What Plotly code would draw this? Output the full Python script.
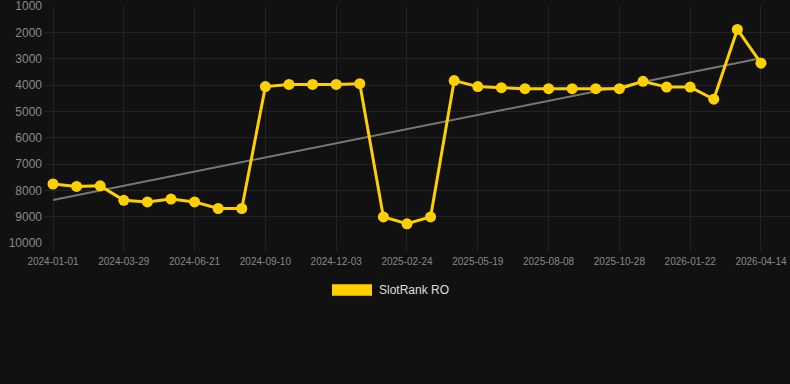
import numpy as np
import plotly.graph_objects as go

dates = ["2024-01-01", "2024-01-30", "2024-02-28", "2024-03-29", "2024-04-26", "2024-05-24",
         "2024-06-21", "2024-07-18", "2024-08-14", "2024-09-10", "2024-10-08", "2024-11-05",
         "2024-12-03", "2024-12-30", "2025-01-27", "2025-02-24", "2025-03-24", "2025-04-21",
         "2025-05-19", "2025-06-15", "2025-07-12", "2025-08-08", "2025-09-04", "2025-10-01",
         "2025-10-28", "2025-11-25", "2025-12-24", "2026-01-22", "2026-02-18", "2026-03-18",
         "2026-04-14"]
ranks = [7760, 7850, 7830, 8380, 8440, 8330, 8440, 8690, 8690, 4060, 3980, 3980, 3980, 3950,
         9010, 9270, 9010, 3830, 4060, 4100, 4140, 4140, 4140, 4140, 4140, 3860, 4080, 4080,
         4540, 1890, 3170]
series_name = "SlotRank RO"
y_ticks = [1000, 2000, 3000, 4000, 5000, 6000, 7000, 8000, 9000, 10000]
y_tick_labels = [str(v) for v in y_ticks]

idx = np.arange(len(dates))
slope, intercept = np.polyfit(idx, ranks, 1)
trend = slope * idx + intercept

YELLOW = "#FFD000"
BG = "#111111"
GRID = "#232323"

fig = go.Figure()
fig.add_trace(go.Scatter(x=idx, y=trend, mode="lines",
                         line=dict(color="#777777", width=2), showlegend=False,
                         hoverinfo="skip"))
fig.add_trace(go.Scatter(x=idx, y=ranks, mode="lines+markers", name=series_name,
                         line=dict(color=YELLOW, width=3),
                         marker=dict(color=YELLOW, size=11), showlegend=False,
                         text=dates))

tick_idx = list(idx[::3])
fig.update_layout(
    width=790, height=384,
    paper_bgcolor=BG, plot_bgcolor=BG,
    margin=dict(l=45, r=0, t=6, b=141),
    font=dict(family="Liberation Sans, Arial, sans-serif", color="#888888"),
    showlegend=False,
    xaxis=dict(range=[-0.339, 31.23], tickmode="array", tickvals=tick_idx,
               ticktext=[dates[i] for i in tick_idx], showgrid=True, gridcolor=GRID,
               gridwidth=1, zeroline=False, showline=False, ticks="outside", ticklen=7,
               tickcolor=GRID, tickfont=dict(size=10, color="#888888"),
               ticklabelstandoff=2, ticklabeloverflow="allow"),
    yaxis=dict(range=[10000.5, 999.5], tickmode="array", tickvals=y_ticks,
               ticktext=y_tick_labels,
               showgrid=True, gridcolor=GRID, gridwidth=1, zeroline=False,
               showline=False, ticks="", tickfont=dict(size=12, color="#8a8a8a"),
               ticklabelstandoff=2, ticklabeloverflow="allow"),
)

# legend drawn manually below the plot
fig.add_shape(type="rect", xref="paper", yref="paper",
              x0=(332 - 45) / 745, x1=(372 - 45) / 745,
              y0=(237 - 289.7) / 237, y1=(237 - 278.3) / 237,
              fillcolor=YELLOW, line=dict(width=0))
fig.add_annotation(xref="paper", yref="paper", x=(377 - 45) / 745, y=(237 - 284) / 237,
                   text=series_name, showarrow=False, xanchor="left", yanchor="middle",
                   font=dict(size=12, color="#dddddd"))

fig.write_html("out.html", config={"displayModeBar": False},
               post_script="document.body.style.margin='0';"
                           "document.body.style.background='#111111';")
